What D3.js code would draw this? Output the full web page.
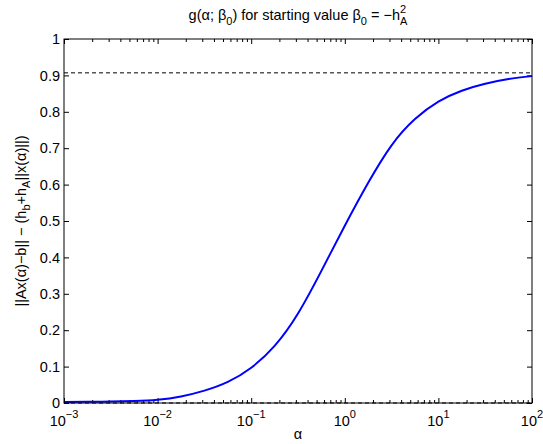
<!DOCTYPE html>
<html>
<head>
<meta charset="utf-8">
<script src="https://cdn.jsdelivr.net/npm/d3@7"></script>
<style>
  body { margin: 0; background: #fff; }
  text { font-family: "Liberation Sans", Arial, Helvetica, sans-serif; fill: #000; }
</style>
</head>
<body>
<div id="chart"></div>
<script>
let alphas = [0.001, 0.001778, 0.003162, 0.005623, 0.01, 0.01778, 0.03162, 0.05623,
              0.1, 0.1778, 0.3162, 0.5623, 1, 1.778, 3.162, 5.623,
              10, 17.78, 31.62, 56.23, 100];
let gValues = [0.003, 0.0035, 0.004, 0.0055, 0.009, 0.018, 0.034, 0.058,
               0.097, 0.157, 0.246, 0.363, 0.487, 0.605, 0.708, 0.780,
               0.828, 0.858, 0.877, 0.890, 0.898];
let asymptotes = [0.907, 0];
let xMajor = [1e-3, 1e-2, 1e-1, 1e0, 1e1, 1e2];
let xExponents = ["-3", "-2", "-1", "0", "1", "2"];
let yTicks = [0, 0.1, 0.2, 0.3, 0.4, 0.5, 0.6, 0.7, 0.8, 0.9, 1];

let svgWidth = 543, svgHeight = 444;
let margin = { top: 39, right: 11, bottom: 41, left: 64 };
let chartWidth = svgWidth - margin.left - margin.right;
let chartHeight = svgHeight - margin.top - margin.bottom;
let fontSize = "14.5px", smallSize = "11px";

let svg = d3.select("#chart").append("svg")
    .attr("width", svgWidth)
    .attr("height", svgHeight);
let chartGroup = svg.append("g")
    .attr("transform", `translate(${margin.left},${margin.top})`);

let xScale = d3.scaleLog().domain([1e-3, 1e2]).range([0, chartWidth]);
let yScale = d3.scaleLinear().domain([0, 1]).range([chartHeight, 0]);

// minor ticks 2..9 in each decade
let xMinor = [];
xMajor.slice(0, -1).forEach(d => {
    for (let k = 2; k <= 9; k++) xMinor.push(d * k);
});

function tickAxis(axis, transform) {
    let g = chartGroup.append("g").attr("transform", transform).call(axis);
    g.select(".domain").remove();
    g.selectAll("line").attr("stroke", "#000");
    return g;
}

// inward ticks on all four sides
tickAxis(d3.axisBottom(xScale).tickValues(xMajor).tickSize(-5).tickFormat(""), `translate(0,${chartHeight})`);
tickAxis(d3.axisBottom(xScale).tickValues(xMinor).tickSize(-3).tickFormat(""), `translate(0,${chartHeight})`);
tickAxis(d3.axisTop(xScale).tickValues(xMajor).tickSize(-5).tickFormat(""), "translate(0,0)");
tickAxis(d3.axisTop(xScale).tickValues(xMinor).tickSize(-3).tickFormat(""), "translate(0,0)");
tickAxis(d3.axisRight(yScale).tickValues(yTicks).tickSize(-5).tickFormat(""), `translate(${chartWidth},0)`);

let yAxisG = tickAxis(d3.axisLeft(yScale).tickValues(yTicks).tickSize(-5).tickPadding(4)
    .tickFormat(d => d3.format("")(+d.toFixed(1))), "translate(0,0)");
yAxisG.selectAll("text").style("font-size", fontSize).attr("fill", "#000");

// x tick labels 10^k
let xLabels = chartGroup.append("g");
xMajor.forEach((d, i) => {
    let t = xLabels.append("text")
        .attr("x", xScale(d))
        .attr("y", chartHeight + 23)
        .attr("text-anchor", "middle")
        .style("font-size", fontSize);
    t.append("tspan").text("10");
    t.append("tspan").attr("dy", -8).style("font-size", smallSize).text(xExponents[i].replace("-", "\u2212"));
});

// dashed reference lines
chartGroup.selectAll(".asym")
    .data(asymptotes)
    .enter()
    .append("line")
    .attr("class", "asym")
    .attr("x1", 0)
    .attr("x2", chartWidth)
    .attr("y1", d => yScale(d))
    .attr("y2", d => yScale(d))
    .attr("stroke", "#000")
    .attr("stroke-width", 1)
    .attr("stroke-dasharray", "4,3");

// the curve
let line = d3.line()
    .x((d, i) => xScale(alphas[i]))
    .y(d => yScale(d))
    .curve(d3.curveNatural);
chartGroup.append("path")
    .datum(gValues)
    .attr("d", line)
    .attr("fill", "none")
    .attr("stroke", "#0000ff")
    .attr("stroke-width", 2);

// box
chartGroup.append("rect")
    .attr("width", chartWidth)
    .attr("height", chartHeight)
    .attr("fill", "none")
    .attr("stroke", "#000")
    .attr("stroke-width", 1);

// title
let title = svg.append("text")
    .attr("x", margin.left + chartWidth / 2)
    .attr("y", 20)
    .attr("text-anchor", "middle")
    .style("font-size", fontSize);
title.append("tspan").text("g(\u03b1; \u03b2");
title.append("tspan").attr("dy", 5).style("font-size", smallSize).text("0");
title.append("tspan").attr("dy", -5).text(") for starting value \u03b2");
title.append("tspan").attr("dy", 5).style("font-size", smallSize).text("0");
title.append("tspan").attr("dy", -5).text(" = \u2212h");
title.append("tspan").attr("dy", 5).style("font-size", smallSize).text("A");
title.append("tspan").attr("dx", -7.3).attr("dy", -12).style("font-size", smallSize).text("2");

// x label
svg.append("text")
    .attr("x", margin.left + chartWidth / 2)
    .attr("y", 439)
    .attr("text-anchor", "middle")
    .style("font-size", fontSize)
    .text("\u03b1");

// y label
let ylab = svg.append("text")
    .attr("transform", `translate(26,${margin.top + chartHeight / 2}) rotate(-90)`)
    .attr("text-anchor", "middle")
    .style("font-size", fontSize);
ylab.append("tspan").text("||Ax(\u03b1)\u2212b|| \u2212 (h");
ylab.append("tspan").attr("dy", 4).style("font-size", smallSize).text("b");
ylab.append("tspan").attr("dy", -4).text("+h");
ylab.append("tspan").attr("dy", 4).style("font-size", smallSize).text("A");
ylab.append("tspan").attr("dy", -4).text("||x(\u03b1)||)");
</script>
</body>
</html>
